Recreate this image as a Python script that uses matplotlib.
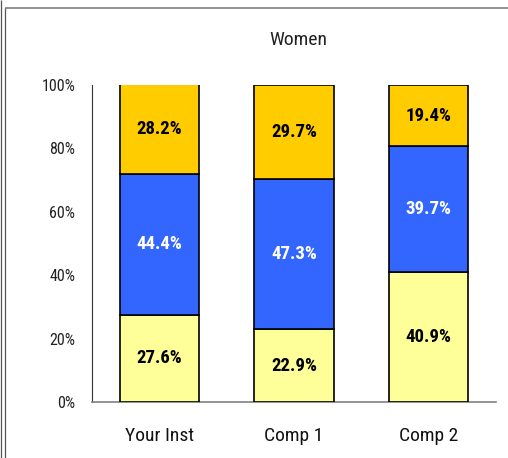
import matplotlib
matplotlib.use("Agg")
import matplotlib.pyplot as plt
from matplotlib.lines import Line2D

categories = ["Your Inst", "Comp 1", "Comp 2"]
bottom_vals = [27.6, 22.9, 40.9]
middle_vals = [44.4, 47.3, 39.7]
top_vals = [28.2, 29.7, 19.4]
yticks = [0, 20, 40, 60, 80, 100]
ytick_labels = ["0%", "20%", "40%", "60%", "80%", "100%"]

colors = ["#FFFF99", "#3366FF", "#FFCC00"]
text_colors = ["black", "white", "black"]
FONT = ["Roboto Condensed", "Archivo Narrow", "DejaVu Sans"]
plt.rcParams["font.family"] = FONT

fig = plt.figure(figsize=(5.08, 4.58), dpi=100)
ax = fig.add_axes([92/508, 56/458, 404/508, 317/458])

x = list(range(len(categories)))
base = [0, 0, 0]
for vals, c, tc in zip([bottom_vals, middle_vals, top_vals], colors, text_colors):
    ax.bar(x, vals, bottom=base, width=0.59, color=c, edgecolor="black", linewidth=1.2, zorder=3)
    for xi, b, v in zip(x, base, vals):
        ax.text(xi, b + v / 2, f"{v:.1f}%", ha="center", va="center", color=tc,
                fontsize=13.5, fontweight="bold", zorder=4)
    base = [b + v for b, v in zip(base, vals)]

ax.set_xlim(-0.5, 2.5)
ax.set_ylim(0, 100)
ax.set_yticks(yticks)
ax.set_yticklabels(ytick_labels, fontsize=11.5, color="#222222")
ax.set_xticks(x)
ax.set_xticklabels(categories, fontsize=14, color="#111111")
ax.tick_params(axis="both", length=0)
ax.tick_params(axis="y", pad=12)
ax.tick_params(axis="x", pad=18)
for s in ["top", "right"]:
    ax.spines[s].set_visible(False)
ax.spines["left"].set_color("#333333")
ax.spines["left"].set_linewidth(0.8)
ax.spines["bottom"].set_color("#808080")
ax.spines["bottom"].set_linewidth(1.2)

fig.text(298/508, 1 - 40/458, "Women", ha="center", va="center", fontsize=14, color="#222222")

# outer frame lines
fig.add_artist(Line2D([5/508, 507.5/508], [1 - 7.5/458, 1 - 7.5/458], color="#808080", linewidth=1.2,
                      solid_capstyle="butt", transform=fig.transFigure))
fig.add_artist(Line2D([1/508, 1/508], [0, 1], color="#555555", linewidth=0.9,
                      solid_capstyle="butt", transform=fig.transFigure))
fig.add_artist(Line2D([4.5/508, 4.5/508], [0, 1 - 7.5/458], color="#555555", linewidth=0.9,
                      solid_capstyle="butt", transform=fig.transFigure))

fig.savefig("out.png", dpi=100)
